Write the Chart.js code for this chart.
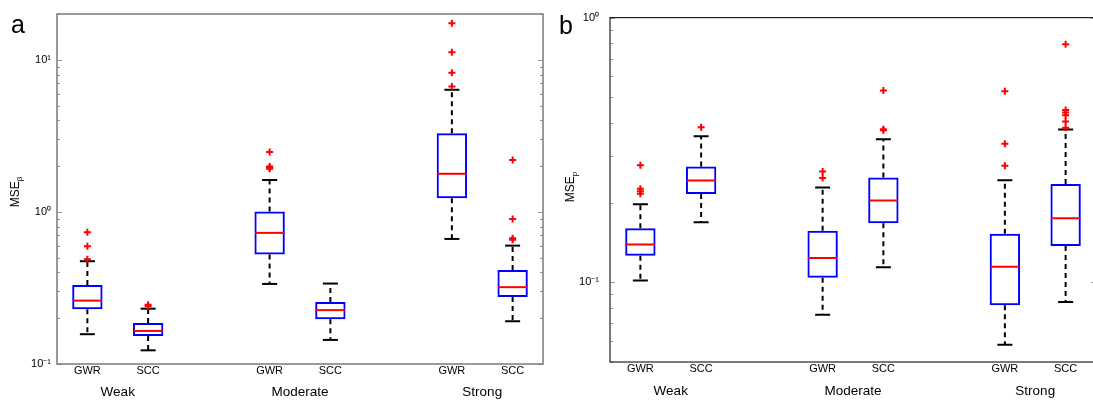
<!DOCTYPE html>
<html><head><meta charset="utf-8">
<script src="https://cdn.jsdelivr.net/npm/chart.js@4.4.0/dist/chart.umd.min.js"></script>
<style>
html,body{margin:0;padding:0;background:#fff;overflow:hidden;width:1093px;height:404px;position:relative;}
#wa{position:absolute;left:0;top:0;width:546px;height:404px;}
#wb{position:absolute;left:546px;top:0;width:560px;height:404px;}
.pl{position:absolute;font-family:"Liberation Sans",Arial,sans-serif;font-size:25px;line-height:25px;color:#000;}
.yt{position:absolute;font-family:"Liberation Sans",Arial,sans-serif;font-size:12px;color:#000;white-space:nowrap;transform:translate(-50%,-50%) rotate(-90deg);}
.yt sub{font-size:8px;}
</style></head>
<body>
<div id="wa"><canvas id="ca"></canvas></div>
<div id="wb"><canvas id="cb"></canvas></div>
<div class="pl" style="left:11px;top:12px;">a</div>
<div class="pl" style="left:559px;top:13px;">b</div>
<div class="yt" style="left:16px;top:192px;">MSE<sub>β</sub></div>
<div class="yt" style="left:571px;top:187px;">MSE<sub>p</sub></div>
<script>
// ---- shared categories ----
const positions = [1, 2, 4, 5, 7, 8];
const methodLabels = ['GWR', 'SCC', 'GWR', 'SCC', 'GWR', 'SCC'];
const groupPositions = [1.5, 4.5, 7.5];
const groupLabels = ['Weak', 'Moderate', 'Strong'];

// ---- panel a: MSE_beta ----
const betaQ1 = [0.229, 0.153, 0.524, 0.197, 1.23, 0.276];
const betaMedian = [0.261, 0.165, 0.728, 0.226, 1.78, 0.320];
const betaQ3 = [0.331, 0.186, 1.005, 0.256, 3.29, 0.415];
const betaLow = [0.157, 0.123, 0.336, 0.144, 0.664, 0.191];
const betaHigh = [0.474, 0.231, 1.62, 0.338, 6.35, 0.600];
const betaOutliers = [[0.489, 0.595, 0.735], [0.240, 0.245], [1.92, 1.95, 1.99, 2.48], [], [6.67, 8.21, 11.2, 17.4], [0.655, 0.672, 0.899, 2.19]];
const betaMajorTicks = [0.1, 1, 10];
const betaTickLabels = ['10⁻¹', '10⁰', '10¹'];

// ---- panel b: MSE_p ----
const pQ1 = [0.126, 0.2158, 0.1041, 0.1672, 0.0819, 0.137];
const pMedian = [0.139, 0.2424, 0.1236, 0.2037, 0.1144, 0.1746];
const pQ3 = [0.160, 0.274, 0.1565, 0.2487, 0.1526, 0.235];
const pLow = [0.1015, 0.1687, 0.0754, 0.114, 0.0581, 0.0843];
const pHigh = [0.197, 0.3564, 0.2282, 0.3474, 0.243, 0.3775];
const pOutliers = [[0.216, 0.2206, 0.2257, 0.277], [0.385], [0.248, 0.262], [0.375, 0.3784, 0.530], [0.2756, 0.334, 0.527], [0.384, 0.405, 0.428, 0.438, 0.448, 0.7936]];
const pMajorTicks = [0.1, 1];
const pTickLabels = ['10⁻¹', '10⁰'];

const FONT = '"Liberation Sans", Arial, sans-serif';

function logTicks(min, max) {
  const out = [];
  for (let e = Math.floor(Math.log10(min)); e <= Math.ceil(Math.log10(max)); e++) {
    for (let k = 1; k <= 9; k++) {
      const v = k * Math.pow(10, e);
      if (v >= min * 0.9999 && v <= max * 1.0001) out.push(v);
    }
  }
  return out;
}
function isMajor(v) { const l = Math.log10(v); return Math.abs(l - Math.round(l)) < 1e-9; }

function framePlugin(color, width) {
  return {
    id: 'frame',
    afterDatasetsDraw(chart) {
      const { ctx, chartArea: a, scales } = chart;
      const y = scales.y;
      ctx.save();
      ctx.strokeStyle = '#9a9a9a';
      ctx.lineWidth = 1;
      y.ticks.forEach(t => {
        const py = Math.round(y.getPixelForValue(t.value)) + 0.5;
        const len = isMajor(t.value) ? 5 : 3;
        ctx.beginPath();
        ctx.moveTo(a.left, py); ctx.lineTo(a.left + len, py);
        ctx.moveTo(a.right, py); ctx.lineTo(a.right - len, py);
        ctx.stroke();
      });
      ctx.strokeStyle = color;
      ctx.lineWidth = width;
      ctx.strokeRect(a.left, a.top, a.right - a.left, a.bottom - a.top);
      ctx.restore();
    }
  };
}

function makeChart(canvasId, cfg) {
  const { q1, med, q3, lo, hi, outl, min, max, majors, majorLabels, yWidth, pad, xh1, xh2, xpad1, xpad2, ypad, frameColor, frameWidth } = cfg;
  const boxData = positions.map((x, i) => ({ x, y: [q1[i], q3[i]] }));
  const medData = positions.map((x, i) => ({ x, y: med[i] }));
  const capData = [];
  const whiskerData = [];
  positions.forEach((x, i) => {
    capData.push({ x, y: hi[i] }, { x, y: lo[i] });
    whiskerData.push({ x, y: q3[i] }, { x, y: hi[i] }, { x, y: null });
    whiskerData.push({ x, y: q1[i] }, { x, y: lo[i] }, { x, y: null });
  });
  const outData = [];
  positions.forEach((x, i) => outl[i].forEach(v => outData.push({ x, y: v })));
  const allTicks = logTicks(min, max);

  return new Chart(document.getElementById(canvasId), {
    type: 'bar',
    data: {
      datasets: [
        { type: 'line', data: outData, showLine: false, pointStyle: 'cross', pointRadius: 3.5, pointBorderWidth: 2, pointBorderColor: '#ff0000', pointBackgroundColor: '#ff0000', xAxisID: 'x', yAxisID: 'y' },
        { type: 'line', data: medData, showLine: false, pointStyle: 'line', pointRadius: 14.5, pointBorderWidth: 2, pointBorderColor: '#ff0000', xAxisID: 'x', yAxisID: 'y' },
        { type: 'line', data: capData, showLine: false, pointStyle: 'line', pointRadius: 7.5, pointBorderWidth: 2, pointBorderColor: '#000', xAxisID: 'x', yAxisID: 'y' },
        { type: 'line', data: whiskerData, borderColor: '#000', borderWidth: 2, borderDash: [5, 4], pointRadius: 0, spanGaps: false, fill: false, xAxisID: 'x', yAxisID: 'y' },
        { type: 'bar', data: boxData, backgroundColor: 'rgba(255,255,255,0)', borderColor: '#0000ff', borderWidth: 2, borderSkipped: false, barPercentage: 0.5, categoryPercentage: 1, xAxisID: 'x', yAxisID: 'y' }
      ]
    },
    options: {
      responsive: false,
      animation: false,
      events: [],
      layout: { padding: pad, autoPadding: false },
      plugins: { legend: { display: false }, tooltip: { enabled: false }, title: { display: false } },
      scales: {
        x: {
          type: 'linear', position: 'bottom', min: 0.5, max: 8.5, offset: false,
          grid: { display: false, drawTicks: false, offset: false }, border: { display: false },
          afterBuildTicks: s => { s.ticks = positions.map(v => ({ value: v })); },
          afterFit: s => { s.height = xh1; },
          ticks: { autoSkip: false, maxRotation: 0, padding: xpad1, color: '#000', font: { family: FONT, size: 11 },
            callback: v => methodLabels[positions.indexOf(v)] || '' }
        },
        x2: {
          type: 'linear', position: 'bottom', min: 0.5, max: 8.5, offset: false,
          grid: { display: false, drawTicks: false, offset: false }, border: { display: false },
          afterBuildTicks: s => { s.ticks = groupPositions.map(v => ({ value: v })); },
          afterFit: s => { s.height = xh2; },
          ticks: { autoSkip: false, maxRotation: 0, padding: xpad2, color: '#000', font: { family: FONT, size: 13.5 },
            callback: v => groupLabels[groupPositions.indexOf(v)] || '' }
        },
        y: {
          type: 'logarithmic', position: 'left', min, max,
          grid: { display: false, drawTicks: false }, border: { display: false },
          afterBuildTicks: s => { s.ticks = allTicks.map(v => ({ value: v })); },
          afterFit: s => { s.width = yWidth; },
          ticks: { autoSkip: false, padding: ypad, color: '#000', font: { family: FONT, size: 11 },
            callback: v => { const i = majors.findIndex(m => Math.abs(m - v) / m < 1e-9); return i >= 0 ? majorLabels[i] : ''; } }
        }
      }
    },
    plugins: [framePlugin(frameColor, frameWidth)]
  });
}

const ca = document.getElementById('ca'); ca.width = 546; ca.height = 404;
const cb = document.getElementById('cb'); cb.width = 560; cb.height = 404;

makeChart('ca', { q1: betaQ1, med: betaMedian, q3: betaQ3, lo: betaLow, hi: betaHigh, outl: betaOutliers,
  min: 0.1, max: 20, majors: betaMajorTicks, majorLabels: betaTickLabels,
  yWidth: 57, pad: { left: 0, right: 3, top: 14, bottom: 0 }, xh1: 18, xh2: 22, xpad1: 0, xpad2: 2, ypad: 6,
  frameColor: '#7a7a7a', frameWidth: 1.5 });

makeChart('cb', { q1: pQ1, med: pMedian, q3: pQ3, lo: pLow, hi: pHigh, outl: pOutliers,
  min: 0.05, max: 1, majors: pMajorTicks, majorLabels: pTickLabels,
  yWidth: 64, pad: { left: 0, right: 10, top: 12, bottom: 0 }, xh1: 18, xh2: 24, xpad1: 0, xpad2: 3, ypad: 11,
  frameColor: '#222', frameWidth: 1.2 });
</script>
</body></html>
